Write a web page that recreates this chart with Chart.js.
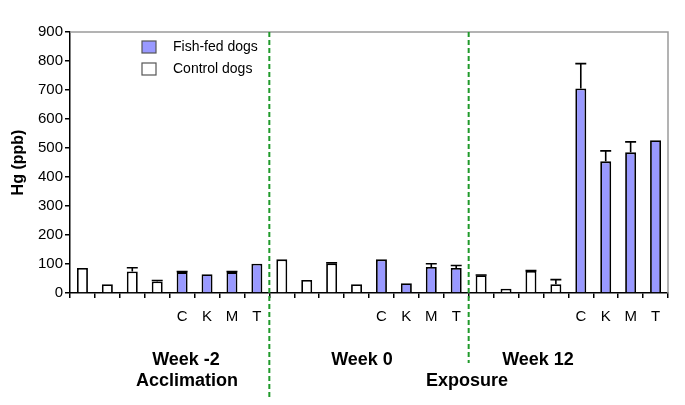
<!DOCTYPE html>
<html>
<head>
<meta charset="utf-8">
<script src="https://cdn.jsdelivr.net/npm/chart.js@4.4.1/dist/chart.umd.min.js"></script>
<style>
  html, body { margin: 0; padding: 0; background: #fff; }
  #wrap { width: 685px; height: 405px; }
</style>
</head>
<body>
<div id="wrap"><canvas id="chart" width="685" height="405"></canvas></div>
<script>
/* Hg in dog blood – control vs fish-fed, by tissue, three time points */
const LABELS = ['', '', '', '', 'C', 'K', 'M', 'T',
                '', '', '', '', 'C', 'K', 'M', 'T',
                '', '', '', '', 'C', 'K', 'M', 'T'];

const CONTROL = [86, 30, 74, 40, null, null, null, null,
                 116, 45, 102, 30, null, null, null, null,
                 61, 15, 76, 30, null, null, null, null];
const CONTROL_ERR = [0, 0, 13, 3, 0, 0, 0, 0,
                     0, 0, 2, 0, 0, 0, 0, 0,
                     1, 0, 1, 16, 0, 0, 0, 0];

const FISH = [null, null, null, null, 72, 65, 72, 101,
              null, null, null, null, 116, 34, 90, 86,
              null, null, null, null, 705, 454, 485, 527];
const FISH_ERR = [0, 0, 0, 0, 2, 0, 2, 0,
                  0, 0, 0, 0, 0, 0, 11, 9,
                  0, 0, 0, 0, 86, 36, 36, 0];

const Y_TICKS = [0, 100, 200, 300, 400, 500, 600, 700, 800, 900];

const PERIODS = [
  { text: 'Week -2',     x: 186, y: 360 },
  { text: 'Acclimation', x: 187, y: 381 },
  { text: 'Week 0',      x: 362, y: 360 },
  { text: 'Week 12',     x: 538, y: 360 },
  { text: 'Exposure',    x: 467, y: 381 },
];

const FONT = '"Liberation Sans", Arial, sans-serif';

/* ── error bars ─────────────────────────────────────────────── */
const errorBars = {
  id: 'errorBars',
  afterDatasetsDraw(chart) {
    const { ctx, scales: { y } } = chart;
    const errs = [FISH_ERR, CONTROL_ERR];
    ctx.save();
    ctx.strokeStyle = '#000';
    ctx.lineWidth = 1.6;
    chart.data.datasets.forEach((ds, di) => {
      const meta = chart.getDatasetMeta(di);
      ds.data.forEach((v, i) => {
        const e = errs[di][i];
        if (v == null || !e) return;
        const bar = meta.data[i];
        const x = bar.x, half = bar.width / 2;
        const y0 = y.getPixelForValue(v), y1 = y.getPixelForValue(v + e);
        ctx.beginPath();
        ctx.moveTo(x, y0); ctx.lineTo(x, y1);
        ctx.moveTo(x - half, y1); ctx.lineTo(x + half, y1);
        ctx.stroke();
      });
    });
    ctx.restore();
  }
};

/* ── frame, dividers, period labels, legend ─────────────────── */
const decorations = {
  id: 'decorations',
  afterDraw(chart) {
    const { ctx, chartArea: a, scales: { x } } = chart;
    ctx.save();

    // grey top / right frame
    ctx.strokeStyle = '#9a9a9a';
    ctx.lineWidth = 1.5;
    ctx.beginPath();
    ctx.moveTo(a.left, a.top); ctx.lineTo(a.right, a.top); ctx.lineTo(a.right, a.bottom);
    ctx.stroke();

    // green dashed dividers between periods
    const div = i => (x.getPixelForValue(i - 1) + x.getPixelForValue(i)) / 2;
    ctx.strokeStyle = '#1f9a2a';
    ctx.lineWidth = 2;
    ctx.setLineDash([5, 3]);
    [[div(8), 400], [div(16), 363]].forEach(([px, bottom]) => {
      ctx.beginPath();
      ctx.moveTo(px, a.top); ctx.lineTo(px, bottom);
      ctx.stroke();
    });
    ctx.setLineDash([]);

    // period labels
    ctx.fillStyle = '#000';
    ctx.font = 'bold 18px ' + FONT;
    ctx.textAlign = 'center';
    ctx.textBaseline = 'middle';
    PERIODS.forEach(p => ctx.fillText(p.text, p.x, p.y));

    // legend
    ctx.font = '14px ' + FONT;
    ctx.textAlign = 'left';
    chart.data.datasets.forEach((ds, i) => {
      const ty = 47 + i * 22;
      ctx.fillStyle = ds.backgroundColor;
      ctx.fillRect(142, ty - 6, 14, 12);
      ctx.strokeStyle = '#555';
      ctx.lineWidth = 1.2;
      ctx.strokeRect(142, ty - 6, 14, 12);
      ctx.fillStyle = '#000';
      ctx.fillText(ds.label, 173, ty);
    });

    ctx.restore();
  }
};

new Chart(document.getElementById('chart'), {
  type: 'bar',
  data: {
    labels: LABELS,
    datasets: [
      { label: 'Fish-fed dogs', data: FISH, backgroundColor: '#9999ff',
        borderColor: '#000', borderWidth: 1.8, borderSkipped: 'bottom' },
      { label: 'Control dogs', data: CONTROL, backgroundColor: '#ffffff',
        borderColor: '#000', borderWidth: 1.8, borderSkipped: 'bottom' },
    ]
  },
  options: {
    responsive: false,
    animation: false,
    layout: { padding: { top: 32, right: 17, left: 0, bottom: 0 } },
    datasets: { bar: { barPercentage: 0.44, categoryPercentage: 1 } },
    plugins: { legend: { display: false }, tooltip: { enabled: false } },
    scales: {
      x: {
        stacked: true,
        afterFit: s => { s.height = 112; },
        grid: { offset: true, drawOnChartArea: false, drawTicks: true, tickLength: 5, color: '#000', lineWidth: 1.5 },
        border: { color: '#000', width: 1.5 },
        ticks: { color: '#000', font: { family: FONT, size: 15 }, padding: 10, autoSkip: false, maxRotation: 0 }
      },
      y: {
        min: 0, max: 900,
        afterFit: s => { s.width = 70; },
        afterBuildTicks: s => { s.ticks = Y_TICKS.map(v => ({ value: v })); },
        grid: { drawOnChartArea: false, drawTicks: true, tickLength: 5, color: '#000', lineWidth: 1.5 },
        border: { color: '#000', width: 1.5 },
        ticks: { color: '#000', font: { family: FONT, size: 15 }, padding: 2 },
        title: { display: true, text: 'Hg (ppb)', color: '#000', font: { family: FONT, size: 16, weight: 'bold' }, padding: { top: 9, bottom: 0 } }
      }
    }
  },
  plugins: [errorBars, decorations]
});
</script>
</body>
</html>
